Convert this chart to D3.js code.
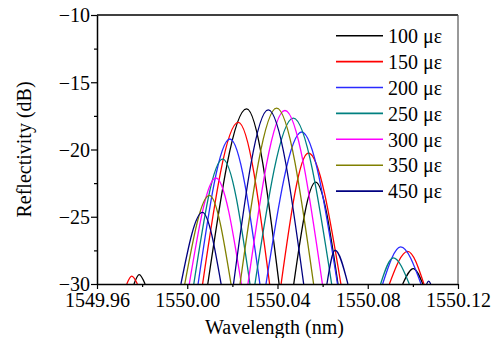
<!DOCTYPE html>
<html>
<head>
<meta charset="utf-8">
<script src="https://cdn.jsdelivr.net/npm/d3@7"></script>
</head>
<body style="margin:0; background:#fff">
<div id="chart"></div>
<script>
// Axes
const xTicks = [1549.96, 1550.00, 1550.04, 1550.08, 1550.12];
const xMinorTicks = [1549.98, 1550.02, 1550.06, 1550.10];
const yTicks = [-30, -25, -20, -15, -10];
const yMinorTicks = [-27.5, -22.5, -17.5, -12.5];

const strains = ["100 με", "150 με", "200 με", "250 με", "300 με", "350 με", "450 με"];
const colors = ["#000000", "#ff0000", "#2a2aff", "#008080", "#ff00ff", "#808000", "#000080"];

// Spectral lobes, one row per lobe:
// [wavelength where it rises through -30 dB, peak wavelength, peak dB, wavelength where it falls through -30 dB]
const lobes100 = [
    [1549.9764, 1549.9787, -29.30, 1549.9813],
    [1550.0091, 1550.0263, -16.98, 1550.0407],
    [1550.0472, 1550.0569, -22.42, 1550.0668],
    [1550.0955, 1550.1002, -28.85, 1550.1044]
];
const lobes150 = [
    [1549.9732, 1549.9754, -29.42, 1549.9779],
    [1550.0068, 1550.0226, -17.99, 1550.0365],
    [1550.0416, 1550.0537, -20.26, 1550.0681],
    [1550.0896, 1550.0977, -27.57, 1550.1049]
];
const lobes200 = [
    [1550.0048, 1550.0189, -19.22, 1550.0322],
    [1550.0349, 1550.0507, -18.70, 1550.0666],
    [1550.0866, 1550.0946, -27.24, 1550.1036]
];
const lobes250 = [
    [1550.0029, 1550.0157, -20.71, 1550.0278],
    [1550.0300, 1550.0470, -17.67, 1550.0640],
    [1550.0857, 1550.0913, -28.06, 1550.0984]
];
const lobes300 = [
    [1550.0009, 1550.0127, -22.12, 1550.0240],
    [1550.0269, 1550.0433, -17.10, 1550.0599]
];
const lobes350 = [
    [1549.9989, 1550.0098, -23.41, 1550.0194],
    [1550.0234, 1550.0396, -16.92, 1550.0560]
];
const lobes450 = [
    [1549.9972, 1550.0067, -24.67, 1550.0150],
    [1550.0205, 1550.0359, -17.05, 1550.0516],
    [1550.0619, 1550.0655, -27.49, 1550.0712],
    [1550.1061, 1550.1070, -29.78, 1550.1079]
];
const allLobes = [lobes100, lobes150, lobes200, lobes250, lobes300, lobes350, lobes450];

// SVG
const w = 492;
const h = 338;
const plotLeft = 97, plotRight = 458, plotTop = 15, plotBottom = 284;
const serif = "Liberation Serif";

const svg = d3.select("#chart")
                .append("svg")
                .attr("width", w)
                .attr("height", h)
                .style("display", "block")
                .style("font-family", serif);

const x = d3.scaleLinear().domain([xTicks[0], xTicks[xTicks.length - 1]]).range([plotLeft, plotRight]);
const y = d3.scaleLinear().domain([yTicks[0], yTicks[yTicks.length - 1]]).range([plotBottom, plotTop]);
const floorDb = yTicks[0];

svg.append("clipPath")
    .attr("id", "plot-clip")
    .append("rect")
    .attr("x", plotLeft)
    .attr("y", plotTop)
    .attr("width", plotRight - plotLeft)
    .attr("height", plotBottom - plotTop);

// Curves: each lobe goes floor -> peak -> floor
const line = d3.line()
                .x(d => x(d[0]))
                .y(d => y(d[1]))
                .curve(d3.curveMonotoneX);

const curves = svg.append("g").attr("clip-path", "url(#plot-clip)");

allLobes.forEach((lobes, i) => {
    curves.append("g")
        .selectAll("path")
        .data(lobes)
        .enter()
        .append("path")
        .attr("d", d => line([[d[0], floorDb], [d[1], d[2]], [d[3], floorDb]]))
        .attr("fill", "none")
        .attr("stroke", colors[i])
        .attr("stroke-width", 1.3);
});

// AXES
function styleAxis(g) {
    g.attr("font-family", null).attr("font-size", null);
    g.selectAll("line").attr("stroke", "#000").attr("stroke-width", 1.2);
}

svg.append("g")
    .attr("transform", "translate(0," + plotBottom + ")")
    .call(d3.axisBottom(x).tickValues(xTicks).tickFormat(d3.format(".2f")).tickSize(5).tickSizeOuter(0).tickPadding(4))
    .call(styleAxis)
    .call(g => g.select(".domain").attr("stroke", "#000").attr("stroke-width", 1.5));

svg.append("g")
    .attr("transform", "translate(0," + plotBottom + ")")
    .call(d3.axisBottom(x).tickValues(xMinorTicks).tickFormat("").tickSize(3).tickSizeOuter(0))
    .call(styleAxis)
    .call(g => g.select(".domain").remove());

svg.append("g")
    .attr("transform", "translate(" + plotLeft + ",0)")
    .call(d3.axisLeft(y).tickValues(yTicks).tickSize(6).tickSizeOuter(0).tickPadding(1))
    .call(styleAxis)
    .call(g => g.select(".domain").attr("stroke", "#000").attr("stroke-width", 1.5))
    .call(g => g.selectAll("text").attr("dy", "0.34em"));

svg.append("g")
    .attr("transform", "translate(" + plotLeft + ",0)")
    .call(d3.axisLeft(y).tickValues(yMinorTicks).tickFormat("").tickSize(3).tickSizeOuter(0))
    .call(styleAxis)
    .call(g => g.select(".domain").remove());

// Frame: top and right
svg.append("line")
    .attr("x1", plotLeft).attr("x2", plotRight)
    .attr("y1", plotTop).attr("y2", plotTop)
    .attr("stroke", "#000")
    .attr("stroke-width", 1.6);

svg.append("line")
    .attr("x1", plotRight).attr("x2", plotRight)
    .attr("y1", plotTop).attr("y2", plotBottom)
    .attr("stroke", "#555")
    .attr("stroke-width", 1.2);

// Axis titles
svg.append("text")
    .attr("x", (plotLeft + plotRight) / 2 - 3)
    .attr("y", 334)
    .attr("text-anchor", "middle")
    .text("Wavelength (nm)");

svg.append("text")
    .attr("transform", "translate(31," + ((plotTop + plotBottom) / 2) + ") rotate(-90)")
    .attr("text-anchor", "middle")
    .text("Reflectivity (dB)");

// LEGEND
const legendX = 336, legendY = 35.7, legendStep = 25.9, swatch = 47;

const legend = svg.append("g")
                .selectAll("g")
                .data(strains)
                .enter()
                .append("g")
                .attr("transform", (d, i) => "translate(" + legendX + "," + (legendY + i * legendStep) + ")");

legend.append("line")
    .attr("x1", 0)
    .attr("x2", swatch)
    .attr("stroke", (d, i) => colors[i])
    .attr("stroke-width", 1.6);

legend.append("text")
    .attr("x", swatch + 5)
    .attr("dy", "0.36em")
    .text(d => d);

// Serif text everywhere
svg.selectAll("text")
    .attr("font-family", serif)
    .style("font-family", serif)
    .style("font-size", "20px")
    .style("fill", "#000");
</script>
</body>
</html>
